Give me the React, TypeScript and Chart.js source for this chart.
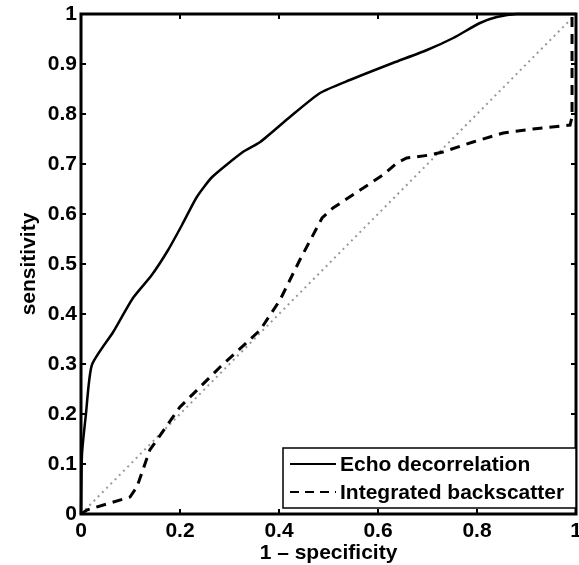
import React, { useEffect, useRef } from "react";
import { Chart, registerables } from "chart.js";

Chart.register(...registerables);

const echoX = [0, 0.002, 0.01, 0.022, 0.065, 0.105, 0.143, 0.176, 0.204, 0.234, 0.265, 0.327, 0.362, 0.422, 0.483, 0.543, 0.63, 0.699, 0.752, 0.806, 0.84, 0.88, 1.0];
const echoY = [0, 0.12, 0.2, 0.298, 0.364, 0.432, 0.478, 0.528, 0.578, 0.634, 0.674, 0.724, 0.744, 0.794, 0.842, 0.868, 0.902, 0.928, 0.952, 0.982, 0.994, 1.0, 1.0];

const ibX = [0, 0.012, 0.099, 0.113, 0.139, 0.2, 0.281, 0.362, 0.402, 0.442, 0.487, 0.509, 0.564, 0.61, 0.638, 0.658, 0.705, 0.731, 0.792, 0.853, 0.913, 0.988, 0.992, 0.992, 1.0];
const ibY = [0, 0.008, 0.034, 0.054, 0.128, 0.214, 0.294, 0.368, 0.428, 0.508, 0.592, 0.612, 0.648, 0.678, 0.702, 0.712, 0.718, 0.724, 0.744, 0.762, 0.77, 0.778, 0.794, 1.0, 1.0];

const diagX = [0, 1];
const diagY = [0, 1];

const xTicks = [0, 0.2, 0.4, 0.6, 0.8, 1];
const yTicks = [0, 0.1, 0.2, 0.3, 0.4, 0.5, 0.6, 0.7, 0.8, 0.9, 1];

const seriesLabels = ["Echo decorrelation", "Integrated backscatter"];
const xTitle = "1 \u2013 specificity";
const yTitle = "sensitivity";

const FONT = "'Liberation Sans', Arial, Helvetica, sans-serif";
const FS = 21;

const framePlugin = {
  id: "frame",
  afterDatasetsDraw(chart: any) {
    const { ctx, chartArea } = chart;
    const { left, right, top, bottom } = chartArea;
    const xs = chart.scales.x;
    const ys = chart.scales.y;
    ctx.save();
    ctx.strokeStyle = "#000";
    ctx.lineWidth = 2;
    const tl = 5;
    ctx.beginPath();
    xTicks.forEach((v) => {
      const px = xs.getPixelForValue(v);
      ctx.moveTo(px, bottom);
      ctx.lineTo(px, bottom - tl);
      ctx.moveTo(px, top);
      ctx.lineTo(px, top + tl);
    });
    yTicks.forEach((v) => {
      const py = ys.getPixelForValue(v);
      ctx.moveTo(left, py);
      ctx.lineTo(left + tl, py);
      ctx.moveTo(right, py);
      ctx.lineTo(right - tl, py);
    });
    ctx.stroke();
    ctx.lineWidth = 3;
    ctx.strokeRect(left, top, right - left, bottom - top);

    // legend
    const lx0 = 283, ly0 = 448, lx1 = right, ly1 = 508;
    ctx.fillStyle = "#fff";
    ctx.fillRect(lx0, ly0, lx1 - lx0, ly1 - ly0);
    ctx.lineWidth = 1.5;
    ctx.strokeRect(lx0, ly0, lx1 - lx0, ly1 - ly0);
    const rows = [464, 492];
    const dashes = [[], [9, 6]];
    chart.data.datasets.slice(0, 2).forEach((ds: any, i: number) => {
      ctx.beginPath();
      ctx.setLineDash(dashes[i]);
      ctx.lineWidth = 2;
      ctx.strokeStyle = "#000";
      ctx.moveTo(290, rows[i]);
      ctx.lineTo(336, rows[i]);
      ctx.stroke();
      ctx.setLineDash([]);
      ctx.fillStyle = "#000";
      ctx.font = `bold ${FS}px ${FONT}`;
      ctx.textBaseline = "middle";
      ctx.textAlign = "left";
      ctx.fillText(ds.label, 340, rows[i] + 1);
    });
    ctx.restore();
  },
};

export default function App() {
  const ref = useRef<HTMLCanvasElement | null>(null);
  useEffect(() => {
    if (!ref.current) return;
    const mk = (xs: number[], ys: number[]) => xs.map((x, i) => ({ x, y: ys[i] }));
    const chart = new Chart(ref.current, {
      type: "line",
      data: {
        datasets: [
          {
            label: seriesLabels[0],
            data: mk(echoX, echoY),
            borderColor: "#000",
            borderWidth: 2.5,
            pointRadius: 0,
            tension: 0.2,
            clip: 6,
          },
          {
            label: seriesLabels[1],
            data: mk(ibX, ibY),
            borderColor: "#000",
            borderWidth: 3,
            borderDash: [10, 7],
            pointRadius: 0,
            tension: 0,
            clip: 6,
          },
          {
            label: "chance",
            data: mk(diagX, diagY),
            borderColor: "#999",
            borderWidth: 2,
            borderDash: [2, 4],
            pointRadius: 0,
            clip: 6,
          },
        ],
      },
      options: {
        animation: false,
        responsive: true,
        maintainAspectRatio: false,
        layout: { padding: { top: 14, right: 3, left: 0, bottom: 0 } },
        plugins: { legend: { display: false }, tooltip: { enabled: false } },
        scales: {
          x: {
            type: "linear",
            min: 0,
            max: 1,
            grid: { display: false, drawTicks: false },
            border: { display: false },
            afterBuildTicks: (s: any) => {
              s.ticks = xTicks.map((v) => ({ value: v }));
            },
            ticks: {
              padding: 5,
              color: "#000",
              font: { family: FONT, size: FS, weight: "bold" },
              maxRotation: 0,
              callback: (v: any) => String(v),
            },
            title: {
              display: true,
              text: xTitle,
              color: "#000",
              font: { family: FONT, size: FS, weight: "bold" },
              padding: { top: 0, bottom: -1 },
            },
            afterFit: (s: any) => {
              s.height = 51;
              s.paddingLeft = 0;
              s.paddingRight = 0;
            },
          },
          y: {
            type: "linear",
            min: 0,
            max: 1,
            grid: { display: false, drawTicks: false },
            border: { display: false },
            afterBuildTicks: (s: any) => {
              s.ticks = yTicks.map((v) => ({ value: v }));
            },
            ticks: {
              padding: 4,
              color: "#000",
              font: { family: FONT, size: FS, weight: "bold" },
              callback: (v: any) => String(v),
            },
            title: {
              display: true,
              text: yTitle,
              color: "#000",
              font: { family: FONT, size: FS, weight: "bold" },
              padding: { top: 17, bottom: 0 },
            },
            afterFit: (s: any) => {
              s.width = 81;
              s.paddingTop = 0;
              s.paddingBottom = 0;
            },
          },
        },
      },
      plugins: [framePlugin],
    } as any);
    return () => chart.destroy();
  }, []);
  return (
    <div style={{ position: "fixed", left: 0, top: 0, width: 579, height: 565, background: "#fff" }}>
      <canvas ref={ref} />
    </div>
  );
}
